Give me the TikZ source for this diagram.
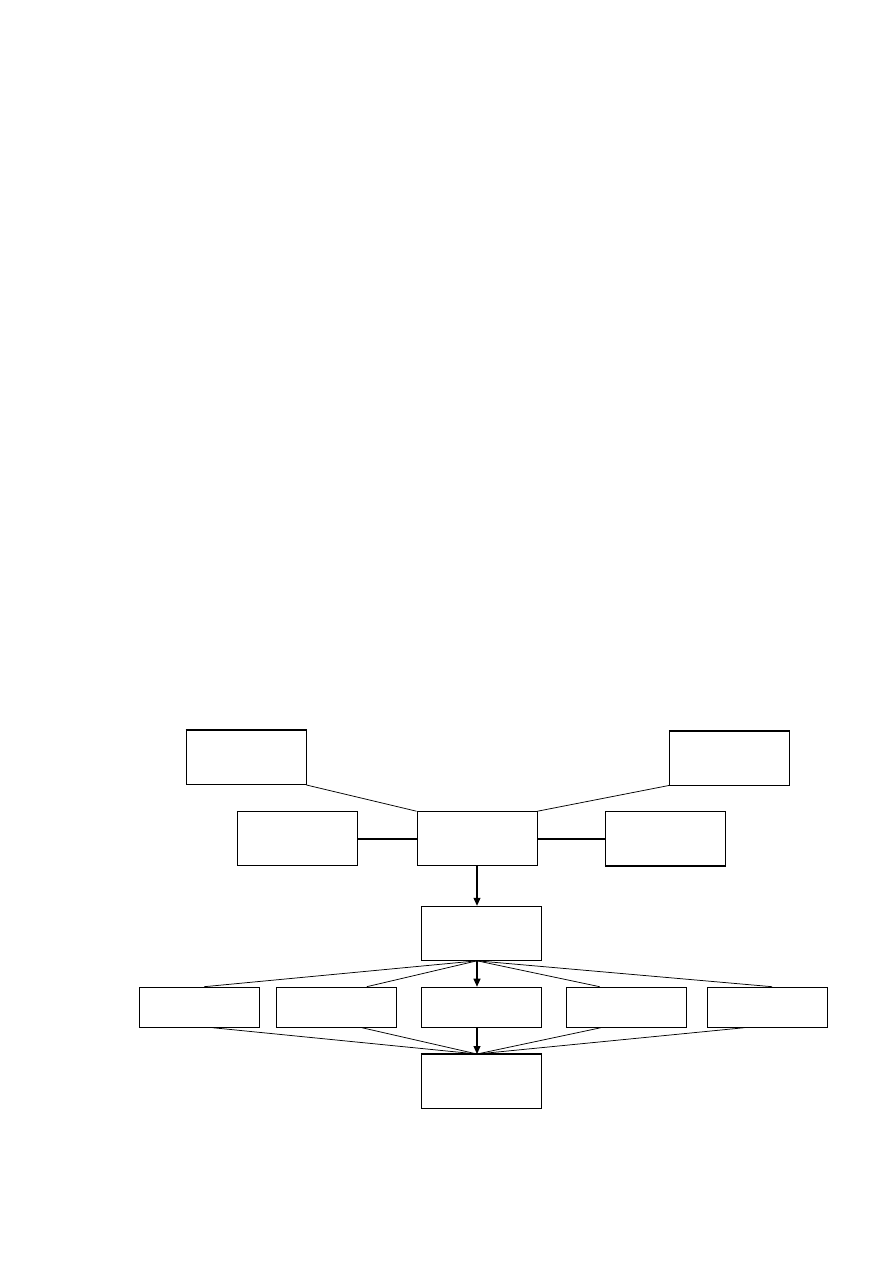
\documentclass[tikz,border=0pt]{standalone}
\usetikzlibrary{arrows.meta,calc}
\begin{document}
\begin{tikzpicture}[x=1pt,y=-1pt,
  bigbox/.style={draw,line width=1pt,minimum width=120pt,minimum height=54pt,inner sep=0pt},
  rowbox/.style={draw,line width=1pt,minimum width=120pt,minimum height=40pt,inner sep=0pt},
  thin/.style={line width=0.75pt},
  thick link/.style={line width=1.7pt},
  arr/.style={line width=1.1pt,-{Triangle[length=8pt,width=7pt]}}]
\useasboundingbox (0,0) rectangle (893,1263);
\node[bigbox] (tl) at (246,757.5) {};
\node[bigbox] (tr) at (729.3,758) {};
\node[bigbox] (ml) at (297.3,838.7) {};
\node[bigbox] (c)  at (477,838.7) {};
\node[bigbox] (mr) at (665.3,838.7) {};
\node[bigbox] (b2) at (481.3,933.3) {};
\node[rowbox] (r1) at (199.3,1007.2) {};
\node[rowbox] (r2) at (336.5,1007.2) {};
\node[rowbox] (r3) at (481.3,1007.2) {};
\node[rowbox] (r4) at (626.3,1007.2) {};
\node[rowbox] (r5) at (767.3,1007.2) {};
\node[bigbox] (bt) at (481.3,1081.5) {};
% heavier edges
\draw[line width=1.8pt] (tl.north west) -- (tl.north east);
\draw[line width=1.8pt] (tr.north west) -- (tr.north east);
\draw[line width=1.8pt] (mr.south west) -- (mr.south east);
\draw[line width=1.6pt] (bt.north west) -- (bt.north east);
% top links
\draw[thin] (tl.south east) -- (c.north west);
\draw[thin] (tr.south west) -- (c.north east);
\draw[thick link] (ml.east) -- (c.west);
\draw[thick link] (c.east) -- (mr.west);
% arrows
\coordinate (fo) at (c.south |- b2.south);
\coordinate (fi) at (c.south |- bt.north);
\draw[arr] (c.south) -- (c.south |- b2.north);
\draw[arr] (fo) -- (c.south |- r3.north);
\draw[arr] (c.south |- r3.south) -- (fi);
% fan out
\draw[thin] (fo) -- ($(r1.north west)!0.54!(r1.north east)$);
\draw[thin] (fo) -- ($(r2.north west)!0.75!(r2.north east)$);
\draw[thin] (fo) -- ($(r4.north west)!0.28!(r4.north east)$);
\draw[thin] (fo) -- ($(r5.north west)!0.54!(r5.north east)$);
% fan in
\draw[thin] ($(r1.south west)!0.61!(r1.south east)$) -- (fi);
\draw[thin] ($(r2.south west)!0.71!(r2.south east)$) -- (fi);
\draw[thin] ($(r4.south west)!0.29!(r4.south east)$) -- (fi);
\draw[thin] ($(r5.south west)!0.31!(r5.south east)$) -- (fi);
\end{tikzpicture}
\end{document}
